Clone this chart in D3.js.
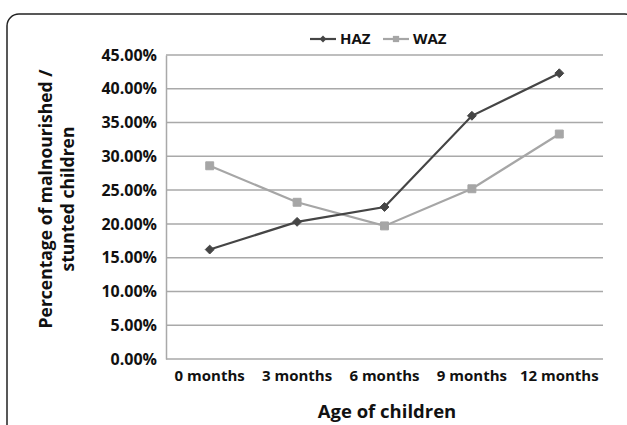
<!DOCTYPE html>
<html>
<head>
<meta charset="utf-8">
<script src="https://cdn.jsdelivr.net/npm/d3@7"></script>
<style>
    body { margin: 0; background: #fff; }
    text { font-family: "Open Sans", sans-serif; font-weight: bold; fill: #111; }
</style>
</head>
<body>
<div id="chart"></div>
<script>
const ages = ["0 months", "3 months", "6 months", "9 months", "12 months"];
const haz = [0.162, 0.203, 0.225, 0.360, 0.423];
const waz = [0.286, 0.232, 0.197, 0.252, 0.333];
const yTicks = [0, 0.05, 0.10, 0.15, 0.20, 0.25, 0.30, 0.35, 0.40, 0.45];

const svgW = 627;
const svgH = 425;
const margin = { top: 55, right: 24, bottom: 66, left: 166 }; // plot area inside the frame

const svg = d3.select("#chart")
    .append("svg")
    .attr("width", svgW)
    .attr("height", svgH);

// rounded frame, bottom runs off the picture
svg.append("rect")
    .attr("x", 7)
    .attr("y", 14)
    .attr("width", 630)
    .attr("height", 440)
    .attr("rx", 12)
    .attr("fill", "none")
    .attr("stroke", "#222")
    .attr("stroke-width", 1.5);

const xScale = d3.scaleBand()
    .domain(ages)
    .range([margin.left, svgW - margin.right]);

const yScale = d3.scaleLinear()
    .domain([0, 0.45])
    .range([svgH - margin.bottom, margin.top]);

// gridlines
svg.append("g")
    .selectAll("line")
    .data(yTicks)
    .enter()
    .append("line")
    .attr("x1", margin.left)
    .attr("x2", svgW - margin.right)
    .attr("y1", d => yScale(d))
    .attr("y2", d => yScale(d))
    .attr("stroke", "#a9a9a9")
    .attr("stroke-width", 1.5);

const yAxis = svg.append("g")
    .attr("transform", `translate(${margin.left}, 0)`)
    .call(d3.axisLeft(yScale).tickValues(yTicks).tickFormat(d3.format(".2%")).tickSize(0).tickPadding(9));

yAxis.select(".domain").attr("stroke", "#a9a9a9").attr("stroke-width", 1.5);
yAxis.selectAll("text").style("font-size", "16px").style("font-family", "Open Sans").attr("fill", "#111");

const xAxis = svg.append("g")
    .attr("transform", `translate(0, ${svgH - margin.bottom})`)
    .call(d3.axisBottom(xScale).tickSize(0).tickPadding(11));

xAxis.select(".domain").remove();
xAxis.selectAll("text").style("font-size", "15px").style("font-family", "Open Sans").attr("fill", "#111");

const line = d3.line()
    .x((d, i) => xScale(ages[i]) + xScale.bandwidth() / 2)
    .y(d => yScale(d));

const series = [
    { name: "HAZ", values: haz, color: "#454545", marker: "diamond" },
    { name: "WAZ", values: waz, color: "#a6a6a6", marker: "square" }
];

series.slice().reverse().forEach(s => {
    svg.append("path")
        .datum(s.values)
        .attr("d", line)
        .attr("fill", "none")
        .attr("stroke", s.color)
        .attr("stroke-width", 2.2);

    svg.append("g")
        .selectAll("path")
        .data(s.values)
        .enter()
        .append("path")
        .attr("transform", (d, i) => `translate(${xScale(ages[i]) + xScale.bandwidth() / 2}, ${yScale(d)})`)
        .attr("d", s.marker === "diamond"
            ? d3.symbol().type(d3.symbolDiamond2).size(50)
            : d3.symbol().type(d3.symbolSquare2).size(80))
        .attr("fill", s.color)
        .attr("stroke", s.color)
        .attr("stroke-width", 1);
});

// legend
const legend = svg.append("g").attr("transform", "translate(310, 39)");
const legendX = [0, 73];

series.forEach((s, i) => {
    const g = legend.append("g").attr("transform", `translate(${legendX[i]}, 0)`);
    g.append("line")
        .attr("x1", 0).attr("x2", 26)
        .attr("stroke", s.color)
        .attr("stroke-width", 2.2);
    g.append("path")
        .attr("transform", "translate(13, 0)")
        .attr("d", s.marker === "diamond"
            ? d3.symbol().type(d3.symbolDiamond2).size(30)
            : d3.symbol().type(d3.symbolSquare2).size(50))
        .attr("fill", s.color);
    g.append("text")
        .text(s.name)
        .attr("x", 30)
        .attr("y", 5)
        .style("font-size", "15px");
});

// axis titles
svg.append("text")
    .attr("transform", "translate(52, 199) rotate(-90)")
    .style("text-anchor", "middle")
    .style("font-size", "17.5px")
    .text("Percentage of malnourished /");

svg.append("text")
    .attr("transform", "translate(74, 199) rotate(-90)")
    .style("text-anchor", "middle")
    .style("font-size", "17.5px")
    .text("stunted children");

svg.append("text")
    .attr("x", 387)
    .attr("y", 418)
    .style("text-anchor", "middle")
    .style("font-size", "18.5px")
    .text("Age of children");
</script>
</body>
</html>
